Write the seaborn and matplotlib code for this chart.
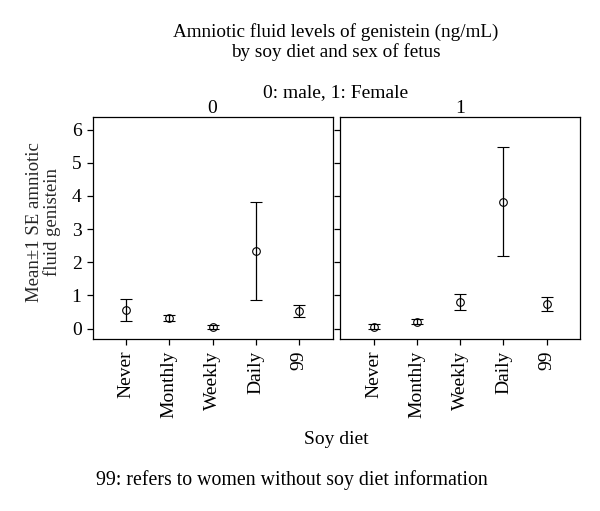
import numpy as np
import pandas as pd
import matplotlib
matplotlib.use('Agg')
import matplotlib.pyplot as plt
import seaborn as sns

# DATA

diet_list = ['Never', 'Monthly', 'Weekly', 'Daily', '99']
sex_list = ['0', '1']
male_mean = [0.57, 0.33, 0.05, 2.34, 0.54]
male_se = [0.33, 0.09, 0.07, 1.48, 0.18]
female_mean = [0.06, 0.21, 0.81, 3.82, 0.75]
female_se = [0.07, 0.08, 0.24, 1.64, 0.21]

df = pd.DataFrame({
    'sex': np.repeat(sex_list, len(diet_list)),
    'diet': diet_list * 2,
    'mean': male_mean + female_mean,
    'se': male_se + female_se,
})

# STYLE

sns.set_style('ticks')
plt.rcParams['font.family'] = ['Liberation Serif', 'DejaVu Serif']
plt.rcParams['axes.linewidth'] = 0.9
plt.rcParams['xtick.major.width'] = 0.9
plt.rcParams['ytick.major.width'] = 0.9
plt.rcParams['xtick.major.size'] = 4.5
plt.rcParams['ytick.major.size'] = 4.5
plt.rcParams['xtick.color'] = 'black'
plt.rcParams['ytick.color'] = 'black'
plt.rcParams['text.color'] = 'black'


def draw_errorbars(data, **kws):
    ax = plt.gca()
    ax.errorbar(data['diet'], data['mean'], yerr=data['se'], fmt='o',
                color='black', mfc='none', mec='black', ms=5.5, mew=0.8,
                elinewidth=0.9, capsize=4, capthick=0.9)


g = sns.FacetGrid(df, col='sex', col_order=sex_list, sharey=True, despine=False)
g.map_dataframe(draw_errorbars)
g.figure.set_size_inches(6, 5.11)
g.figure.subplots_adjust(left=0.1545, right=0.9667, bottom=0.336, top=0.7705, wspace=0.032)

g.set_titles('{col_name}', size=14, pad=2)
g.set(xlim=(-0.77, 4.77), ylim=(-0.32, 6.37), yticks=range(0, 7))
g.set_axis_labels('', '')

for ax in g.axes.flat:
    ax.tick_params(axis='x', labelrotation=90, labelsize=14)
    ax.tick_params(axis='y', labelsize=14)
    for spine in ax.spines.values():
        spine.set_color('black')

ax0 = g.axes.flat[0]
ax0.set_ylabel('Mean\u00b11 SE amniotic\nfluid genistein', fontsize=13.5, linespacing=1.05)
ax0.yaxis.label.set_va('center')
ax0.yaxis.set_label_coords(-0.205, 0.53)

fig = g.figure
fig.text(0.56, 1 - 42 / 511, 'Amniotic fluid levels of genistein (ng/mL)\nby soy diet and sex of fetus',
         ha='center', va='center', fontsize=13.8, linespacing=1.1)
fig.text(0.56, 1 - 93 / 511, '0: male, 1: Female', ha='center', va='center', fontsize=14)
fig.text(0.56, 1 - 440 / 511, 'Soy diet', ha='center', va='center', fontsize=14)
fig.text(96 / 600, 1 - 480 / 511, '99: refers to women without soy diet information',
         ha='left', va='center', fontsize=14.3)

fig.savefig('out.png', dpi=100)
